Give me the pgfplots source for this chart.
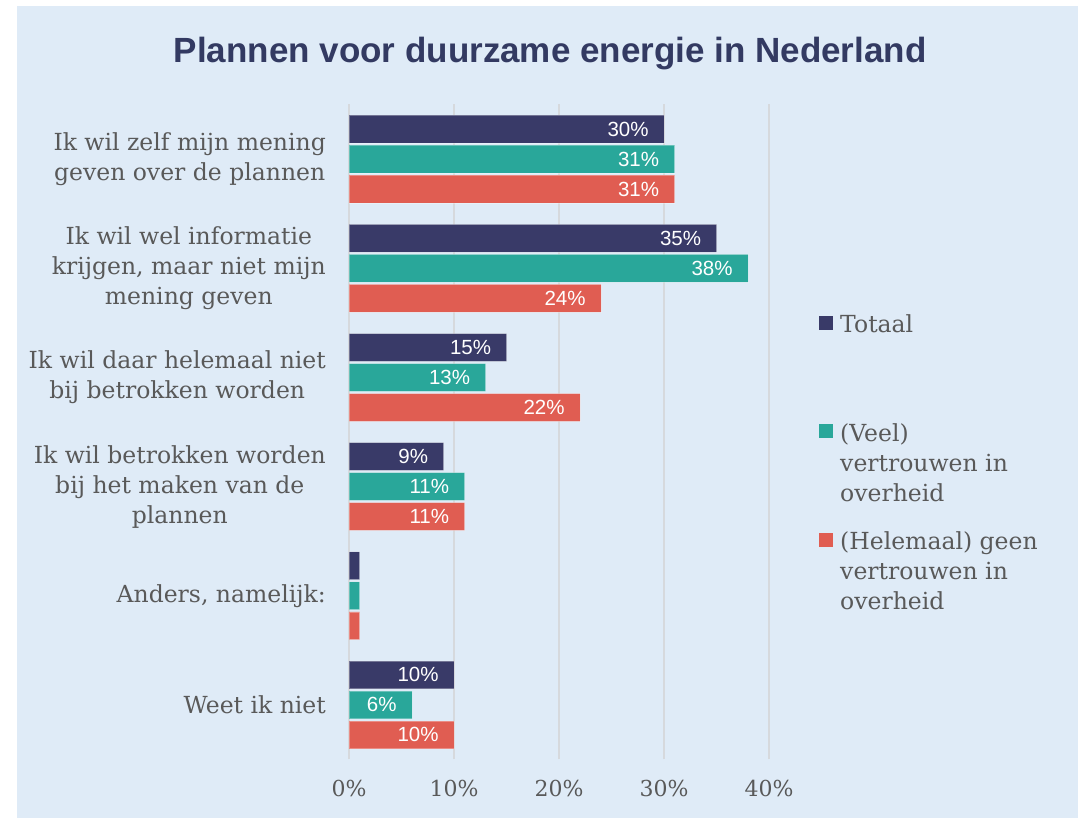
\documentclass[border=0pt]{standalone}
\usepackage{fontspec}
\setmainfont{DejaVu Serif}
\newfontfamily\sansf{Liberation Sans}
\usepackage{pgfplots}
\pgfplotsset{compat=1.18}
\definecolor{bg}{HTML}{DFEBF7}
\definecolor{cnavy}{HTML}{393A68}
\definecolor{cteal}{HTML}{29A79A}
\definecolor{cred}{HTML}{E05D52}
\definecolor{tgray}{HTML}{595959}
\definecolor{titlec}{HTML}{333A62}
\definecolor{gridc}{HTML}{D6D9DD}
\begin{document}
\begin{tikzpicture}[x=1pt,y=1pt]
\path[use as bounding box] (0,0) rectangle (1089,818);
\fill[bg] (17,0) rectangle (1078,812);
\begin{axis}[
  at={(349pt,58.5pt)}, anchor=south west,
  scale only axis, width=420pt, height=655pt,
  xbar, bar width=0.254,
  xmin=0, xmax=40, ymin=-0.5, ymax=5.5,
  xtick={0,10,20,30,40}, xticklabels={0\%,10\%,20\%,30\%,40\%},
  ytick={0,...,5},
  yticklabels={{Weet ik niet},{Anders, namelijk:},{Ik wil betrokken worden\\bij het maken van de\\plannen},{Ik wil daar helemaal niet\\bij betrokken worden},{Ik wil wel informatie\\krijgen, maar niet mijn\\mening geven},{Ik wil zelf mijn mening\\geven over de plannen}},
  xmajorgrids, ymajorgrids=false, grid style={gridc, line width=1.5pt},
  axis line style={draw=none}, major tick length=0pt,
  tick label style={text=tgray, font=\fontsize{23.5}{30}\selectfont},
  xticklabel style={font=\fontsize{22}{26}\selectfont, inner sep=0pt, yshift=-20pt},
  yticklabel style={align=center, inner sep=0pt, xshift=-23pt},
  title={Plannen voor duurzame energie in Nederland},
  title style={at={(axis description cs:0.479,1.069)}, anchor=center, font=\sansf\bfseries\fontsize{35}{40}\selectfont, text=titlec},
  point meta=explicit symbolic,
  nodes near coords,
  nodes near coords align={anchor=east},
  every node near coord/.append style={anchor=east, text=white, font=\sansf\fontsize{20.5}{24}\selectfont, inner sep=0pt, xshift=-15pt},
  legend image code/.code={\fill[#1,draw=none] (0pt,3pt) rectangle (14pt,17pt);},
  legend style={draw=none, fill=none, at={(axis description cs:1.112,0.687)}, anchor=north west,
    nodes={inner sep=0pt, text=tgray, font=\fontsize{23.5}{30}\selectfont, text height=21pt, text depth=87.5pt, anchor=base west}, column sep=7pt, row sep=0pt},
  legend cell align=left,
]
\addplot[fill=cnavy, draw=white, draw opacity=0.3, line width=0.8pt, bar shift=0.275] coordinates {
  (10,0) [10\%] (1,1) [\relax] (9,2) [9\%] (15,3) [15\%] (35,4) [35\%] (30,5) [30\%]};
\addlegendentry{\parbox[t]{230pt}{\strut Totaal}}
\addplot[fill=cteal, draw=white, draw opacity=0.3, line width=0.8pt, bar shift=0] coordinates {
  (6,0) [6\%] (1,1) [\relax] (11,2) [11\%] (13,3) [13\%] (38,4) [38\%] (31,5) [31\%]};
\addlegendentry{\parbox[t]{230pt}{\strut(Veel)\\vertrouwen in\\overheid}}
\addplot[fill=cred, draw=white, draw opacity=0.3, line width=0.8pt, bar shift=-0.275] coordinates {
  (10,0) [10\%] (1,1) [\relax] (11,2) [11\%] (22,3) [22\%] (24,4) [24\%] (31,5) [31\%]};
\addlegendentry{\parbox[t]{230pt}{\strut(Helemaal) geen\\vertrouwen in\\overheid}}
\end{axis}
\end{tikzpicture}
\end{document}
